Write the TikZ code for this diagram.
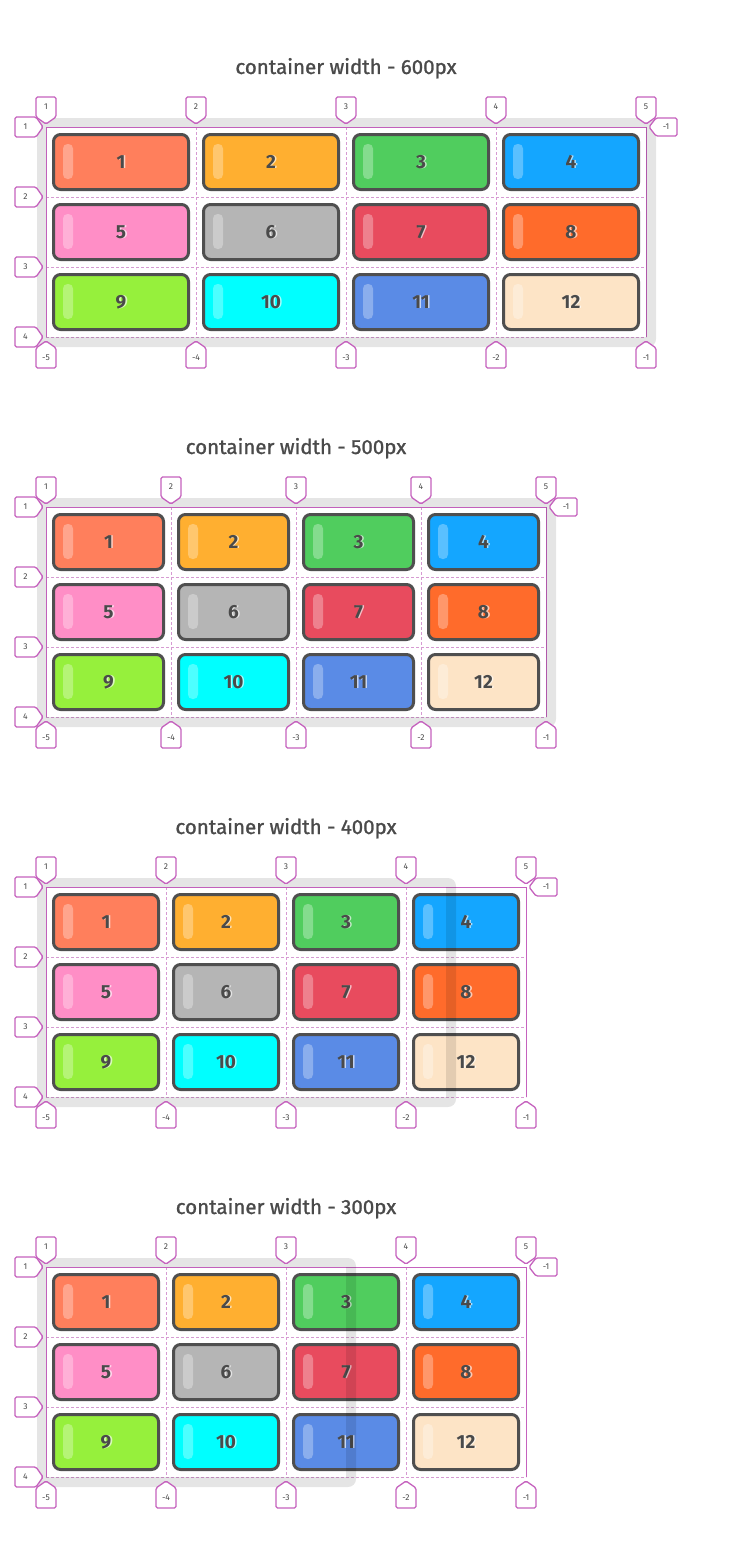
\documentclass[tikz,border=0pt]{standalone}
\usepackage{fontspec}
\setmainfont{Fira Sans}
\newfontfamily\titlefont[FakeBold=1.2]{Fira Sans}
\definecolor{c1}{HTML}{FF7F5C}
\definecolor{c2}{HTML}{FFAF30}
\definecolor{c3}{HTML}{50CD5E}
\definecolor{c4}{HTML}{14A6FF}
\definecolor{c5}{HTML}{FF8EC6}
\definecolor{c6}{HTML}{B5B5B5}
\definecolor{c7}{HTML}{E84B5E}
\definecolor{c8}{HTML}{FF6B2B}
\definecolor{c9}{HTML}{96F03C}
\definecolor{c10}{HTML}{00FFFF}
\definecolor{c11}{HTML}{5A8BE6}
\definecolor{c12}{HTML}{FDE4C6}
\definecolor{mag}{HTML}{C562BE}
\definecolor{magl}{HTML}{D69AD2}
\definecolor{tileline}{HTML}{4F4F4F}
\definecolor{txt}{HTML}{4A4A4A}
\tikzset{
  tilebox/.style={draw=tileline, line width=3pt, rounded corners=7pt,
    minimum height=55pt, inner sep=0pt, font=\fontsize{19}{20}\selectfont\bfseries, text=txt},
  shine/.style={fill=white, opacity=.3, rounded corners=4.5pt},
  gridsolid/.style={draw=mag, line width=.8pt},
  griddash/.style={draw=magl, line width=.8pt, dash pattern=on 3pt off 2pt},
  ring/.style={fill=black, opacity=.1, even odd rule},
  mkbox/.style={draw=mag, fill=white, line width=1.3pt, rounded corners=1.5pt},
  mktext/.style={font=\fontsize{8.5}{9}\selectfont, text=txt, inner sep=0pt},
  titletext/.style={font=\titlefont\fontsize{20.5}{22}\selectfont, text=txt, anchor=base}
}
\newcommand\drawpanel[5]{%
  % #1 id, #2 top, #3 column pitch, #4 container width, #5 title
  \pgfmathsetmacro\pR{46+4*#3}
  \pgfmathsetmacro\pB{#2+210}
  \pgfmathsetmacro\pC{46+#4}
  \node[titletext] (#1title) at ({46+2*#3},{#2-53}) {#5};
  % grid
  \foreach \c in {1,2,3} \draw[griddash] ({46+\c*#3},#2) -- ({46+\c*#3},\pB);
  \foreach \r in {1,2,3} \draw[griddash] (46,{#2+\r*70}) -- (\pR,{#2+\r*70});
  \draw[griddash] (46,\pB) -- (\pR,\pB);
  \draw[gridsolid] (46,\pB) -- (46,#2) -- (\pR,#2) -- (\pR,\pB);
  % tiles
  \foreach \r in {0,1,2} {
    \foreach \c in {0,1,2,3} {
      \pgfmathtruncatemacro\nn{\r*4+\c+1}
      \pgfmathsetmacro\xl{46+\c*#3}
      \pgfmathsetmacro\yt{#2+\r*70}
      \node[tilebox, fill=c\nn, minimum width={#3-15}] (#1t\nn) at ({\xl+#3/2},{\yt+35})
        {\makebox[0pt][l]{\hspace{1.6pt}\color{c\nn!35!white}\nn}\nn};
      \fill[shine] ({\xl+17},{\yt+17}) rectangle ({\xl+27},{\yt+52});
    }
  }
  % container border
  \fill[ring] [rounded corners=8pt] (37,{#2-9}) rectangle ({\pC+10},{\pB+10})
    [sharp corners] (46,#2) rectangle (\pC,\pB);
  % top markers
  \foreach \c in {0,...,4} {
    \pgfmathsetmacro\xm{46+\c*#3}
    \pgfmathtruncatemacro\lab{\c+1}
    \draw[mkbox] ({\xm-10},{#2-30}) -- ({\xm+10},{#2-30}) -- ({\xm+10},{#2-10})
      -- (\xm,{#2-3}) -- ({\xm-10},{#2-10}) -- cycle;
    \node[mktext] (#1top\lab) at (\xm,{#2-20}) {\lab};
  }
  % bottom markers
  \foreach \c in {0,...,4} {
    \pgfmathsetmacro\xm{46+\c*#3}
    \pgfmathtruncatemacro\lab{\c-5}
    \pgfmathtruncatemacro\idx{\c+1}
    \draw[mkbox] (\xm,{\pB+4}) -- ({\xm+10},{\pB+11}) -- ({\xm+10},{\pB+31})
      -- ({\xm-10},{\pB+31}) -- ({\xm-10},{\pB+11}) -- cycle;
    \node[mktext] (#1bot\idx) at (\xm,{\pB+21}) {\lab};
  }
  % left markers
  \foreach \r in {0,...,3} {
    \pgfmathsetmacro\ym{#2+\r*70}
    \pgfmathtruncatemacro\lab{\r+1}
    \draw[mkbox] (15,{\ym-10}) -- (36,{\ym-10}) -- (43,\ym) -- (36,{\ym+10})
      -- (15,{\ym+10}) -- cycle;
    \node[mktext] (#1left\lab) at (25.5,\ym) {\lab};
  }
  % right marker
  \draw[mkbox] ({\pR+3},#2) -- ({\pR+10},{#2-9}) -- ({\pR+31},{#2-9})
    -- ({\pR+31},{#2+9}) -- ({\pR+10},{#2+9}) -- cycle;
  \node[mktext] (#1right) at ({\pR+20},#2) {-1};
}
\begin{document}
\begin{tikzpicture}[x=1pt,y=-1pt]
  \useasboundingbox (0,0) rectangle (746,1555);
  \fill[white] (0,0) rectangle (746,1555);
  \drawpanel{a}{127}{150}{600}{container width - 600px}
  \drawpanel{b}{507}{125}{500}{container width - 500px}
  \drawpanel{c}{887}{120}{400}{container width - 400px}
  \drawpanel{d}{1267}{120}{300}{container width - 300px}
\end{tikzpicture}
\end{document}
